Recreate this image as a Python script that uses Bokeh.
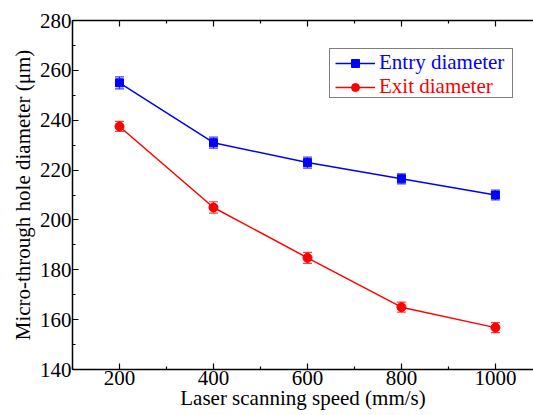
from bokeh.plotting import figure
from bokeh.models import (ColumnDataSource, Whisker, TeeHead, Legend, LegendItem,
                          LinearAxis, FixedTicker)
from bokeh.embed import file_html
from bokeh.resources import INLINE

speed = [200, 400, 600, 800, 1000]
entry = [255.0, 231.0, 223.0, 216.5, 210.0]
entry_err = [2.4, 2.2, 2.2, 2.0, 2.0]
exit_d = [237.5, 205.0, 184.8, 165.0, 156.8]
exit_err = [2.0, 2.3, 2.2, 2.0, 2.0]

x_ticks = [200, 400, 600, 800, 1000]
x_minor = [100, 300, 500, 700, 900, 1100]
y_ticks = [140, 160, 180, 200, 220, 240, 260, 280]
y_minor = [150, 170, 190, 210, 230, 250, 270]

FONT = "Liberation Serif"
BLUE = "#0000FF"
RED = "#FF0000"
FS = "21px"

p = figure(width=533, height=415, x_range=(100, 1081), y_range=(140, 280),
           output_backend="svg", toolbar_location=None,
           min_border_left=72, min_border_right=0, min_border_top=20,
           min_border_bottom=46)
p.xgrid.visible = False
p.ygrid.visible = False
p.outline_line_color = None
p.background_fill_color = "white"
p.border_fill_color = "white"

src_e = ColumnDataSource(dict(x=speed, y=entry,
                              lo=[v - e for v, e in zip(entry, entry_err)],
                              hi=[v + e for v, e in zip(entry, entry_err)]))
src_x = ColumnDataSource(dict(x=speed, y=exit_d,
                              lo=[v - e for v, e in zip(exit_d, exit_err)],
                              hi=[v + e for v, e in zip(exit_d, exit_err)]))

for src, col in ((src_e, BLUE), (src_x, RED)):
    w = Whisker(source=src, base="x", lower="lo", upper="hi",
                line_color=col, line_width=1.2, line_alpha=0.75,
                upper_head=TeeHead(size=9, line_color=col, line_width=1.2, line_alpha=0.75),
                lower_head=TeeHead(size=9, line_color=col, line_width=1.2, line_alpha=0.75))
    p.add_layout(w)

le = p.line("x", "y", source=src_e, line_color=BLUE, line_width=1.5)
se = p.scatter("x", "y", source=src_e, marker="square", size=8,
               fill_color=BLUE, line_color=BLUE)
lx = p.line("x", "y", source=src_x, line_color=RED, line_width=1.5)
sx = p.scatter("x", "y", source=src_x, marker="circle", size=9,
               fill_color=RED, line_color=RED)
# empty, invisible renderer used only to draw the legend frame
dummy = p.scatter(x=[], y=[], fill_alpha=0, line_alpha=0)

def style_axis(ax, ticks, minor):
    ax.ticker = FixedTicker(ticks=ticks, minor_ticks=minor)
    ax.axis_line_color = "black"
    ax.axis_line_width = 1.5
    ax.major_tick_line_color = "black"
    ax.minor_tick_line_color = "black"
    ax.major_tick_line_width = 1.2
    ax.minor_tick_line_width = 1.2
    ax.major_tick_in = 6
    ax.major_tick_out = 0
    ax.minor_tick_in = 3
    ax.minor_tick_out = 0
    ax.major_label_text_font = FONT
    ax.major_label_text_font_size = FS
    ax.major_label_text_color = "black"
    ax.axis_label_text_font = FONT
    ax.axis_label_text_font_size = FS
    ax.axis_label_text_font_style = "normal"
    ax.axis_label_text_color = "black"

xa = p.xaxis[0]
style_axis(xa, x_ticks, x_minor)
xa.axis_label = "Laser scanning speed (mm/s)"
xa.major_label_standoff = 1
xa.axis_label_standoff = -2

ya = p.yaxis[0]
style_axis(ya, y_ticks, y_minor)
ya.axis_label = "Micro-through hole diameter (μm)"
ya.major_label_standoff = 1
ya.axis_label_standoff = 2

top = LinearAxis()
style_axis(top, x_ticks, x_minor)
top.major_label_overrides = {t: "" for t in x_ticks}
top.major_label_standoff = 0
p.add_layout(top, "above")

# legend frame (182 x 48 px)
box = Legend(items=[LegendItem(label=" ", renderers=[dummy]),
                    LegendItem(label="  ", renderers=[dummy])],
             location=(257, 271), border_line_color="black", border_line_width=1.2,
             background_fill_color="white", glyph_width=20, glyph_height=20,
             label_height=20, label_width=152, label_standoff=4, spacing=2,
             padding=3, margin=0, label_text_font_size="10px")

common = dict(glyph_width=40, glyph_height=20, label_height=20, label_standoff=4,
              spacing=0, padding=6, margin=0, border_line_alpha=0,
              background_fill_alpha=0,
              label_text_font=FONT, label_text_font_size=FS)
l1 = Legend(items=[LegendItem(label="Entry diameter", renderers=[le, se])],
            location=(257, 288), label_text_color=BLUE, **common)
l2 = Legend(items=[LegendItem(label="Exit diameter", renderers=[lx, sx])],
            location=(257, 264), label_text_color=RED, **common)
p.add_layout(box)
p.add_layout(l1)
p.add_layout(l2)

open("out.html", "w").write(file_html(p, INLINE))
